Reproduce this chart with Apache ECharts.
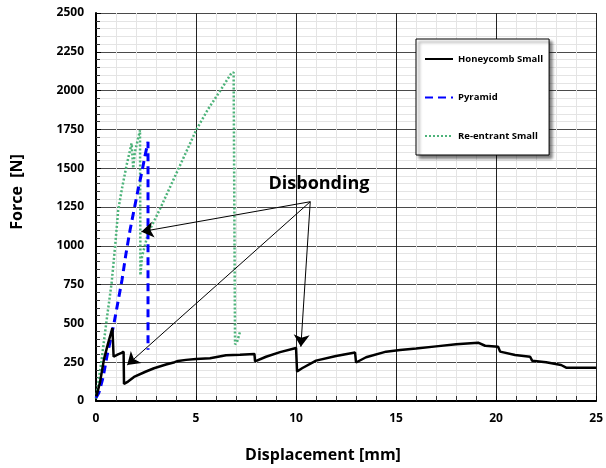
<!DOCTYPE html>
<html>
<head>
<meta charset="utf-8">
<title>Force vs displacement</title>
<script src="https://cdn.jsdelivr.net/npm/echarts@6.0.0/dist/echarts.min.js"></script>
<style>
  html, body { margin: 0; padding: 0; background: #fff; }
  #chart { width: 606px; height: 468px; }
</style>
</head>
<body>
<div id="chart"></div>
<script>
// [displacement mm, force N]
const honeycombSmall = [
  [0.02, 30], [0.2, 120], [0.4, 270], [0.6, 370], [0.82, 470], [0.88, 285],
  [1.1, 300], [1.25, 308], [1.38, 318], [1.4, 110], [1.6, 125], [1.9, 155],
  [2.5, 190], [2.9, 211], [3.5, 235], [3.93, 250], [4.0, 240], [4.1, 258],
  [4.5, 265], [5.0, 270], [5.7, 276], [6.5, 295], [7.2, 298], [7.92, 303],
  [7.95, 255], [8.5, 285], [9.2, 315], [10.0, 342], [10.05, 190], [10.3, 211],
  [11, 260], [12, 290], [12.95, 312], [13.0, 248], [13.5, 282], [14.5, 318],
  [15.2, 328], [16, 338], [17, 352], [18, 365], [19.1, 376], [19.45, 356],
  [20.1, 350], [20.2, 318], [20.95, 296], [21.7, 285], [21.8, 260], [22.5, 250],
  [23.25, 232], [23.5, 215], [25, 215]
];
const pyramid = [
  [0, 20], [0.15, 55], [0.35, 150], [0.55, 290], [0.75, 410], [0.9, 500],
  [1.1, 640], [1.3, 780], [1.5, 950], [1.7, 1100], [1.9, 1230], [2.1, 1360],
  [2.3, 1480], [2.45, 1580], [2.6, 1670], [2.6, 330]
];
const reentrantSmall = [
  [0, 15], [0.28, 265], [0.53, 520], [0.78, 760], [0.95, 990], [1.11, 1230],
  [1.3, 1370], [1.53, 1520], [1.78, 1660], [1.86, 1500], [1.94, 1600], [2.1, 1690],
  [2.2, 1745], [2.22, 810], [2.3, 930], [2.6, 1080], [3.19, 1235], [4.1, 1490],
  [5.01, 1746], [5.6, 1880], [6.18, 1993], [6.76, 2111], [6.88, 2118], [6.95, 365],
  [7.05, 380], [7.22, 455]
];
// "Disbonding" arrows: from the label to each drop
const arrowFrom = [10.71, 1284];
const arrowTips = [[2.27, 1091], [1.56, 232], [10.24, 350]];

const seriesNames = ["Honeycomb Small", "Pyramid", "Re-entrant Small"];
const xTicks = { min: 0, max: 25, step: 5 };
const yTicks = { min: 0, max: 2500, step: 250 };

const FONT = "'Open Sans', 'Noto Sans', sans-serif";

let myChart = echarts.init(document.getElementById("chart"), null, { renderer: "canvas" });
myChart.setOption({
  animation: false,
  backgroundColor: "#fff",
  grid: { left: 96, right: 8, top: 13, bottom: 67 },
  legend: {
    data: seriesNames,
    orient: "vertical",
    left: 416,
    top: 39,
    padding: [15, 6, 14, 8],
    itemGap: 28.5,
    itemWidth: 28,
    itemHeight: 11,
    itemStyle: { opacity: 0 },
    backgroundColor: "#fff",
    borderColor: "#000",
    borderWidth: 1,
    borderRadius: 0,
    shadowColor: "rgba(0,0,0,0.55)",
    shadowBlur: 3,
    shadowOffsetX: 3,
    shadowOffsetY: 3,
    textStyle: { color: "#000", fontWeight: "bold", fontSize: 9.5, fontFamily: FONT }
  },
  xAxis: {
    type: "value",
    min: xTicks.min,
    max: xTicks.max,
    interval: xTicks.step,
    axisLine: { lineStyle: { color: "#000", width: 2 } },
    axisTick: { inside: true, length: 5, lineStyle: { color: "#000" } },
    minorTick: { show: true, splitNumber: 5, length: 5, lineStyle: { color: "#333" } },
    axisLabel: { color: "#000", fontWeight: "bold", fontSize: 12, fontFamily: FONT, margin: 12 },
    splitLine: { show: true, lineStyle: { color: "#222", width: 1 } },
    minorSplitLine: { show: true, lineStyle: { color: "#e4e4e4", width: 1 } }
  },
  yAxis: {
    type: "value",
    min: yTicks.min,
    max: yTicks.max,
    interval: yTicks.step,
    axisLine: { show: true, lineStyle: { color: "#000", width: 2 } },
    axisTick: { show: true, inside: true, length: 5, lineStyle: { color: "#000" } },
    minorTick: { show: true, splitNumber: 5, length: 4, lineStyle: { color: "#333" } },
    axisLabel: {
      color: "#000", fontWeight: "bold", fontSize: 12, fontFamily: FONT, margin: 12,
      formatter: function (v) { return String(v); }
    },
    splitLine: { show: true, lineStyle: { color: "#4a4a4a", width: 1 } },
    minorSplitLine: { show: true, lineStyle: { color: "#e4e4e4", width: 1 } }
  },
  graphic: [
    {
      type: "text",
      x: 17,
      y: 192,
      rotation: Math.PI / 2,
      z: 100,
      style: {
        text: "Force  [N]",
        fill: "#000",
        font: "bold 16px " + FONT,
        align: "center",
        verticalAlign: "middle"
      }
    },
    {
      type: "text",
      x: 323,
      y: 455,
      z: 100,
      style: {
        text: "Displacement [mm]",
        fill: "#000",
        font: "bold 16px " + FONT,
        align: "center",
        verticalAlign: "middle"
      }
    },
    {
      type: "text",
      x: 319,
      y: 184,
      z: 100,
      style: {
        text: "Disbonding",
        fill: "#000",
        font: "bold 18px " + FONT,
        align: "center",
        verticalAlign: "middle"
      }
    }
  ],
  series: [
    {
      name: "Honeycomb Small",
      type: "line",
      data: honeycombSmall,
      symbol: "none",
      lineStyle: { color: "#000", width: 2.5 },
      itemStyle: { color: "#000" },
      z: 4
    },
    {
      name: "Pyramid",
      type: "line",
      data: pyramid,
      symbol: "none",
      lineStyle: { color: "#0000ff", width: 3, type: [8, 5] },
      itemStyle: { color: "#0000ff" },
      z: 3
    },
    {
      name: "Re-entrant Small",
      type: "line",
      data: reentrantSmall,
      symbol: "none",
      lineStyle: { color: "#4db37a", width: 2.5, type: [2, 2] },
      itemStyle: { color: "#4db37a" },
      z: 2
    },
    {
      name: "arrows",
      type: "lines",
      coordinateSystem: "cartesian2d",
      symbol: ["none", "arrow"],
      symbolSize: 12,
      lineStyle: { color: "#000", width: 1, opacity: 1, curveness: 0 },
      data: arrowTips.map(function (tip) {
        return { coords: [arrowFrom, tip] };
      }),
      z: 5
    }
  ]
});
</script>
</body>
</html>
